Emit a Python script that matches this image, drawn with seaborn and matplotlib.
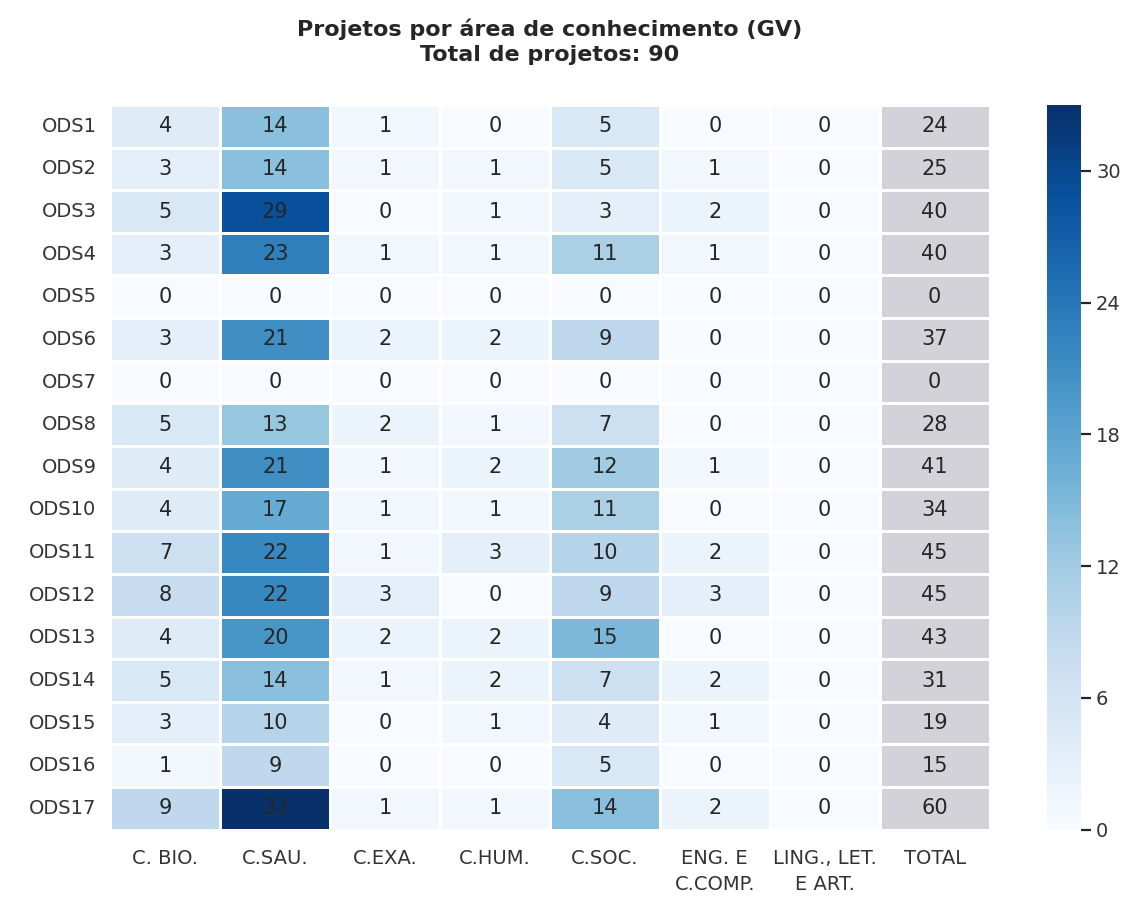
import numpy as np
import pandas as pd
import matplotlib
matplotlib.use("Agg")
import matplotlib.pyplot as plt
import seaborn as sns
from matplotlib.colors import ListedColormap

# Rows (ODS) and columns (knowledge areas)
ods = ["ODS%d" % i for i in range(1, 18)]
areas = ["C. BIO.", "C.SAU.", "C.EXA.", "C.HUM.", "C.SOC.",
         "ENG. E\nC.COMP.", "LING., LET.\nE ART.", "TOTAL"]

c_bio = [4, 3, 5, 3, 0, 3, 0, 5, 4, 4, 7, 8, 4, 5, 3, 1, 9]
c_sau = [14, 14, 29, 23, 0, 21, 0, 13, 21, 17, 22, 22, 20, 14, 10, 9, 33]
c_exa = [1, 1, 0, 1, 0, 2, 0, 2, 1, 1, 1, 3, 2, 1, 0, 0, 1]
c_hum = [0, 1, 1, 1, 0, 2, 0, 1, 2, 1, 3, 0, 2, 2, 1, 0, 1]
c_soc = [5, 5, 3, 11, 0, 9, 0, 7, 12, 11, 10, 9, 15, 7, 4, 5, 14]
eng = [0, 1, 2, 1, 0, 0, 0, 0, 1, 0, 2, 3, 0, 2, 1, 0, 2]
ling = [0] * 17
total = [24, 25, 40, 40, 0, 37, 0, 28, 41, 34, 45, 45, 43, 31, 19, 15, 60]

df = pd.DataFrame(np.column_stack([c_bio, c_sau, c_exa, c_hum, c_soc, eng, ling, total]),
                  index=ods, columns=areas)

sns.set_style("white")

fig = plt.figure(figsize=(11.27, 8.97), dpi=100)
ax = fig.add_axes([0.098, 0.075, 0.78, 0.808])
cax = fig.add_axes([0.929, 0.075, 0.030, 0.808])

# mask the TOTAL column for the blue map, everything else for the grey one
mask_total = np.zeros(df.shape, dtype=bool)
mask_total[:, -1] = True

annot_kws = {"fontsize": 15, "color": "#262626"}

sns.heatmap(df, mask=mask_total, cmap="Blues", vmin=0, vmax=33,
            annot=True, fmt="d", annot_kws=annot_kws,
            linewidths=2, linecolor="white", ax=ax, cbar_ax=cax)
sns.heatmap(df, mask=~mask_total, cmap=ListedColormap(["#d3d2d8"]),
            annot=True, fmt="d", annot_kws=annot_kws,
            linewidths=2, linecolor="white", ax=ax, cbar=False)

ax.set_title("Projetos por área de conhecimento (GV)\nTotal de projetos: 90",
             fontsize=16, fontweight="bold", color="#262626", pad=32,
             linespacing=1.3)
ax.tick_params(axis="both", length=0, labelsize=14, colors="#333333")
ax.tick_params(axis="x", pad=14)
ax.tick_params(axis="y", pad=10)
ax.set_yticklabels(ax.get_yticklabels(), rotation=0)
ax.set_xticklabels(ax.get_xticklabels(), rotation=0, linespacing=1.45)

cbar = ax.collections[0].colorbar
cbar.set_ticks([0, 6, 12, 18, 24, 30])
cbar.outline.set_visible(False)
cbar.ax.tick_params(labelsize=14, labelcolor="#333333", color="#262626",
                    length=7, width=1.6, right=True, direction="out", pad=4)

fig.savefig("out.png", dpi=100)
